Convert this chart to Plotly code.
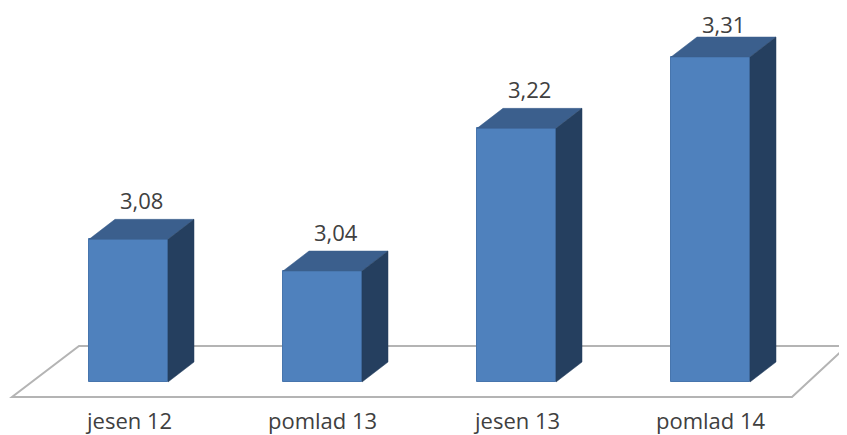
import plotly.graph_objects as go

# ---- data ----
categories = ["jesen 12", "pomlad 13", "jesen 13", "pomlad 14"]
values = [3.08, 3.04, 3.22, 3.31]
base_value = 2.9

# ---- geometry / style (pixel-based constants converted to axis units) ----
PAGE_MARGIN = 8             # default body margin of the html page
W, H = 847 - PAGE_MARGIN, 435 - PAGE_MARGIN
PX_PER_CAT = 194.0          # pixels per category step
PX_PER_UNIT = 792.6         # pixels per value unit
CENTER0_PX = 128.5 - PAGE_MARGIN   # pixel x of first category center (figure coords)
BASE_PX = 382.0 - PAGE_MARGIN      # pixel y of bar bottom (value = base_value)

x_range = [(0 - CENTER0_PX) / PX_PER_CAT, (W - CENTER0_PX) / PX_PER_CAT]
y_range = [base_value - (H - BASE_PX) / PX_PER_UNIT, base_value + BASE_PX / PX_PER_UNIT]

bar_w = 79 / PX_PER_CAT
dx = 26 / PX_PER_CAT        # depth offset (x)
dy = 20 / PX_PER_UNIT       # depth offset (y)
label_gap = 39 / PX_PER_UNIT
label_max = y_range[1] - 16 / PX_PER_UNIT   # keep value labels inside the figure

FRONT = "#4F81BD"
TOP = "#3B5F8D"
SIDE = "#253F5F"
TEXT = "#404040"
FLOOR_LINE = "#B4B4B4"
FONT = "Open Sans"

fig = go.Figure()

shapes = []
# floor parallelogram (slight perspective: left and right edges differ)
f_front = base_value - 15 / PX_PER_UNIT
f_back = base_value + 36 / PX_PER_UNIT
fl = -116.5 / PX_PER_CAT
fr = 663.5 / PX_PER_CAT
skew_l = 67 / PX_PER_CAT
skew_r = 55 / PX_PER_CAT
shapes.append(dict(
    type="path", xref="x", yref="y", layer="below",
    path=f"M {fl},{f_front} L {fr},{f_front} L {fr + skew_r},{f_back} L {fl + skew_l},{f_back} Z",
    line=dict(color=FLOOR_LINE, width=2), fillcolor="white"))

fig.add_trace(go.Bar(
    x=list(range(len(categories))), y=[v - base_value for v in values], base=base_value,
    width=bar_w, marker=dict(color=FRONT, line=dict(color="#4775AD", width=1)),
    hoverinfo="skip", showlegend=False))

annotations = []
for i, v in enumerate(values):
    xl, xr = i - bar_w / 2, i + bar_w / 2
    # top face
    shapes.append(dict(
        type="path", xref="x", yref="y", layer="above",
        path=f"M {xl},{v} L {xr},{v} L {xr + dx},{v + dy} L {xl + dx},{v + dy} Z",
        line=dict(color=TOP, width=0.5), fillcolor=TOP))
    # side face
    shapes.append(dict(
        type="path", xref="x", yref="y", layer="above",
        path=f"M {xr},{base_value} L {xr},{v} L {xr + dx},{v + dy} L {xr + dx},{base_value + dy} Z",
        line=dict(color=SIDE, width=0.5), fillcolor=SIDE))
    # value label
    annotations.append(dict(
        x=i + dx / 2, y=min(v + label_gap, label_max), xref="x", yref="y",
        text=f"{v:.2f}".replace(".", ","), showarrow=False,
        font=dict(family=FONT, size=22, color=TEXT), xanchor="center", yanchor="middle"))
    # category label
    annotations.append(dict(
        x=i, y=base_value - 38 / PX_PER_UNIT, xref="x", yref="y",
        text=categories[i], showarrow=False,
        font=dict(family=FONT, size=22, color=TEXT), xanchor="center", yanchor="middle"))

fig.update_layout(
    width=W, height=H,
    margin=dict(l=0, r=0, t=0, b=0),
    paper_bgcolor="white", plot_bgcolor="white",
    xaxis=dict(range=x_range, visible=False, fixedrange=True),
    yaxis=dict(range=y_range, visible=False, fixedrange=True),
    shapes=shapes, annotations=annotations,
    bargap=0,
)

fig.write_html("out.html")
